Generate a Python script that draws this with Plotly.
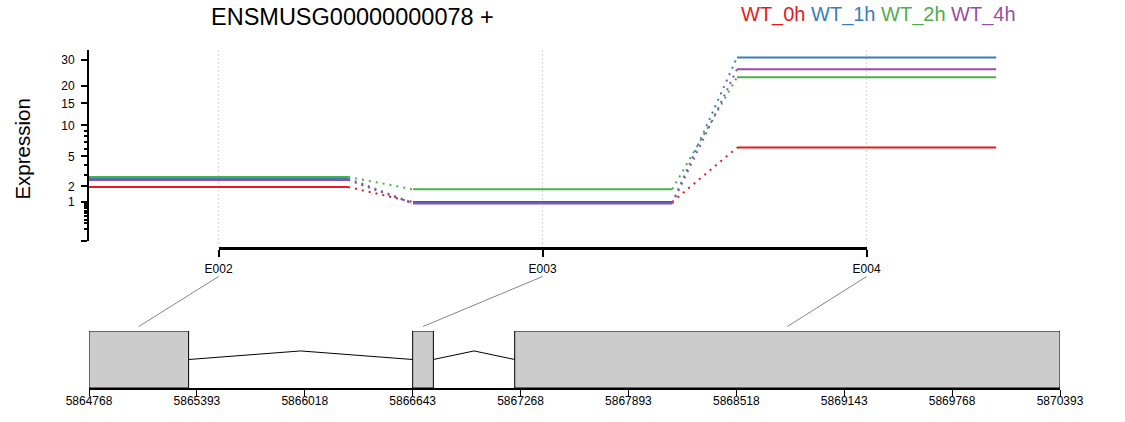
import numpy as np
import plotly.graph_objects as go

# ---------------- data ----------------
gene_id = "ENSMUSG00000000078"
strand = "+"
exons = ["E002", "E003", "E004"]
conditions = ["WT_0h", "WT_1h", "WT_2h", "WT_4h"]
colors = ["#E41A1C", "#377EB8", "#4DAF4A", "#984EA3"]
expr_wt_0h = [1.95, 1.00, 6.2]
expr_wt_1h = [2.63, 0.95, 31.0]
expr_wt_2h = [2.78, 1.78, 23.0]
expr_wt_4h = [2.51, 0.92, 26.0]
exon_start = [5864768, 5866643, 5867234]
exon_end = [5865345, 5866763, 5870393]
y_major = [0, 1, 2, 5, 10, 15, 20, 30]
y_major_text = ["", "1", "2", "5", "10", "15", "20", "30"]
y_minor = [0.1, 0.2, 0.3, 0.4, 0.5, 0.6, 0.7, 0.8, 0.9, 3, 4, 6, 7, 8, 9]
genome_ticks = list(range(5864768, 5870394, 625))

series = [expr_wt_0h, expr_wt_1h, expr_wt_2h, expr_wt_4h]

# ---------------- helpers ----------------
W, H = 1125, 422


def px(x):
    return x / W


def py(y):
    return 1 - y / H


def vst(v):
    return np.arcsinh(np.sqrt(0.05 * np.asarray(v, dtype=float)))


FONT = "Liberation Sans, Arial, sans-serif"
HALF = 0.4
x_dom = [px(89), px(1061)]
x_rng = [0.6, 3.6]
g_dom = [px(89), px(1060)]
g_rng = [exon_start[0], exon_end[-1]]
y_dom = [py(241), py(50)]
y_rng = [0, 1.087]
y2_dom = [py(388), py(331)]


def xpaper(v):
    return x_dom[0] + (v - x_rng[0]) / (x_rng[1] - x_rng[0]) * (x_dom[1] - x_dom[0])


def gpaper(v):
    return g_dom[0] + (v - g_rng[0]) / (g_rng[1] - g_rng[0]) * (g_dom[1] - g_dom[0])


pos = list(range(1, len(exons) + 1))

fig = go.Figure()

# expression segments + dotted connectors
for name, col, vals in zip(conditions, colors, series):
    tv = vst(vals)
    xs, ys = [], []
    for p, t in zip(pos, tv):
        xs += [p - HALF, p + HALF, None]
        ys += [t, t, None]
    fig.add_trace(go.Scatter(x=xs, y=ys, mode="lines", name=name,
                             line=dict(color=col, width=2), showlegend=False,
                             hoverinfo="skip"))
    xd, yd = [], []
    for i in range(len(pos) - 1):
        xd += [pos[i] + HALF, pos[i + 1] - HALF, None]
        yd += [tv[i], tv[i + 1], None]
    fig.add_trace(go.Scatter(x=xd, y=yd, mode="lines", showlegend=False,
                             line=dict(color=col, width=2, dash="2px,5px"),
                             hoverinfo="skip"))

# invisible trace for exon axis (x3)
fig.add_trace(go.Scatter(x=pos, y=[0] * len(pos), xaxis="x3", yaxis="y",
                         mode="markers", marker=dict(opacity=0), showlegend=False,
                         hoverinfo="skip"))

# gene model: introns
for i in range(len(exon_start) - 1):
    a, b = exon_end[i], exon_start[i + 1]
    fig.add_trace(go.Scatter(x=[a, (a + b) / 2, b], y=[0.5, 0.65, 0.5],
                             xaxis="x2", yaxis="y2", mode="lines",
                             line=dict(color="black", width=1), showlegend=False,
                             hoverinfo="skip"))

shapes = []
# exon boxes
for s, e in zip(exon_start, exon_end):
    shapes.append(dict(type="rect", xref="x2", yref="y2", x0=s, x1=e, y0=0, y1=1,
                       fillcolor="#CCCCCC", line=dict(color="black", width=1)))
# vertical dotted guides
for p in pos:
    shapes.append(dict(type="line", xref="x", yref="paper", x0=p, x1=p,
                       y0=py(248), y1=py(50), layer="below",
                       line=dict(color="#D9D9D9", width=1, dash="2px,2px")))
# connectors exon label -> exon box centre
for p, s, e in zip(pos, exon_start, exon_end):
    shapes.append(dict(type="line", xref="paper", yref="paper",
                       x0=xpaper(p), y0=py(276.5), x1=gpaper((s + e) / 2), y1=py(326.5),
                       line=dict(color="#666666", width=0.8)))

legend_html = " ".join(f"<span style='color:{c}'>{n}</span>" for n, c in zip(conditions, colors))

annotations = [
    dict(text=f"{gene_id} {strand}", xref="paper", yref="paper", x=px(352.5), y=py(16.6),
         xanchor="center", yanchor="middle", showarrow=False,
         font=dict(size=23.5, color="black", family=FONT)),
    dict(text=legend_html, xref="paper", yref="paper", x=px(739), y=py(14.5),
         xanchor="left", yanchor="middle", showarrow=False,
         font=dict(size=20, family=FONT)),
    dict(text="Expression", xref="paper", yref="paper", x=px(22.6), y=py(149),
         xanchor="center", yanchor="middle", textangle=-90, showarrow=False,
         font=dict(size=20.5, color="black", family=FONT)),
]

fig.update_layout(
    width=W, height=H, autosize=False,
    margin=dict(l=0, r=0, t=0, b=0, pad=0, autoexpand=False),
    paper_bgcolor="white", plot_bgcolor="rgba(0,0,0,0)",
    font=dict(family=FONT, color="black", size=12),
    showlegend=False,
    shapes=shapes,
    annotations=annotations,
    xaxis=dict(domain=x_dom, range=x_rng, showline=False, showgrid=False, automargin=False,
               zeroline=False, showticklabels=False, ticks="", anchor="y"),
    yaxis=dict(domain=y_dom, range=y_rng, anchor="x", showline=True, linewidth=2,
               linecolor="black", showgrid=False, zeroline=False, automargin=False,
               tickmode="array", tickvals=list(vst(y_major)), ticktext=y_major_text,
               ticks="outside", ticklen=6, tickwidth=1.5, tickcolor="black",
               ticklabelstandoff=4, tickfont=dict(size=12),
               minor=dict(tickmode="array", tickvals=list(vst(y_minor)), ticks="outside",
                          ticklen=3, tickwidth=1.5, tickcolor="black", showgrid=False)),
    xaxis3=dict(domain=[xpaper(pos[0]), xpaper(pos[-1])], range=[pos[0], pos[-1]],
                anchor="free", position=py(248), showline=True, linewidth=2.5,
                linecolor="black", showgrid=False, zeroline=False, automargin=False,
                tickmode="array", tickvals=pos, ticktext=exons,
                ticks="outside", ticklen=7, tickwidth=2, tickcolor="black",
                ticklabelstandoff=2, tickfont=dict(size=12)),
    xaxis2=dict(domain=g_dom, range=g_rng, anchor="y2", showline=True, linewidth=2,
                linecolor="black", showgrid=False, zeroline=False, automargin=False,
                tickmode="array", tickvals=genome_ticks,
                ticktext=[str(t) for t in genome_ticks],
                ticks="outside", ticklen=6, tickwidth=1, tickcolor="black",
                ticklabelstandoff=-5, tickfont=dict(size=12)),
    yaxis2=dict(domain=y2_dom, range=[0, 1], anchor="x2", visible=False, automargin=False,
                showgrid=False, zeroline=False),
)

fig.write_html("out.html", config={"displayModeBar": False},
               post_script="document.body.style.margin='0px';")
